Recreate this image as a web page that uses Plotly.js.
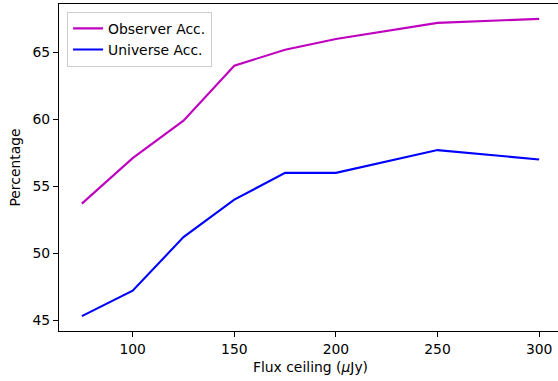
<!DOCTYPE html>
<html>
<head>
<meta charset="utf-8">
<script src="https://cdn.plot.ly/plotly-3.0.1.min.js"></script>
<style>html,body{margin:0;padding:0;overflow:hidden;background:#fff;}</style>
</head>
<body>
<div id="chart"></div>
<script>
const fluxCeiling = [75, 100, 125, 150, 175, 200, 250, 300];
const observerAcc = [53.7, 57.1, 59.9, 64.0, 65.2, 66.0, 67.2, 67.5];
const universeAcc = [45.3, 47.2, 51.2, 54.0, 56.0, 56.0, 57.7, 57.0];
const xTicks = [100, 150, 200, 250, 300];
const yTicks = [45, 50, 55, 60, 65];

const font = {family: 'DejaVu Sans', size: 13.9, color: '#000'};
const traces = [
  {x: fluxCeiling, y: observerAcc, mode: 'lines', name: 'Observer Acc.', line: {color: '#bf00bf', width: 2.1}},
  {x: fluxCeiling, y: universeAcc, mode: 'lines', name: 'Universe Acc.', line: {color: '#0000ff', width: 2.1}}
];
const layout = {
  width: 562, height: 381,
  margin: {l: 59, r: 0, t: 4, b: 50},
  paper_bgcolor: '#fff', plot_bgcolor: '#fff',
  font: font,
  showlegend: true,
  legend: {x: 0.016, y: 0.976, xanchor: 'left', yanchor: 'top', bgcolor: 'rgba(255,255,255,0.8)',
           bordercolor: '#cccccc', borderwidth: 1, font: font, tracegroupgap: 0},
  xaxis: {range: [63.75, 311.25], tickvals: xTicks, ticks: 'outside', ticklen: 5, tickwidth: 1, tickcolor: '#000',
          showline: true, linecolor: '#000', linewidth: 1, mirror: true, showgrid: false, zeroline: false,
          tickfont: font, title: {text: 'Flux ceiling (<i>μ</i>Jy)', font: font, standoff: 6}},
  yaxis: {range: [44.19, 68.61], tickvals: yTicks, ticks: 'outside', ticklen: 5, tickwidth: 1, tickcolor: '#000',
          showline: true, linecolor: '#000', linewidth: 1, mirror: true, showgrid: false, zeroline: false,
          tickfont: font, title: {text: 'Percentage', font: font, standoff: 8}}
};
Plotly.newPlot('chart', traces, layout, {displayModeBar: false, staticPlot: true});
</script>
</body>
</html>
